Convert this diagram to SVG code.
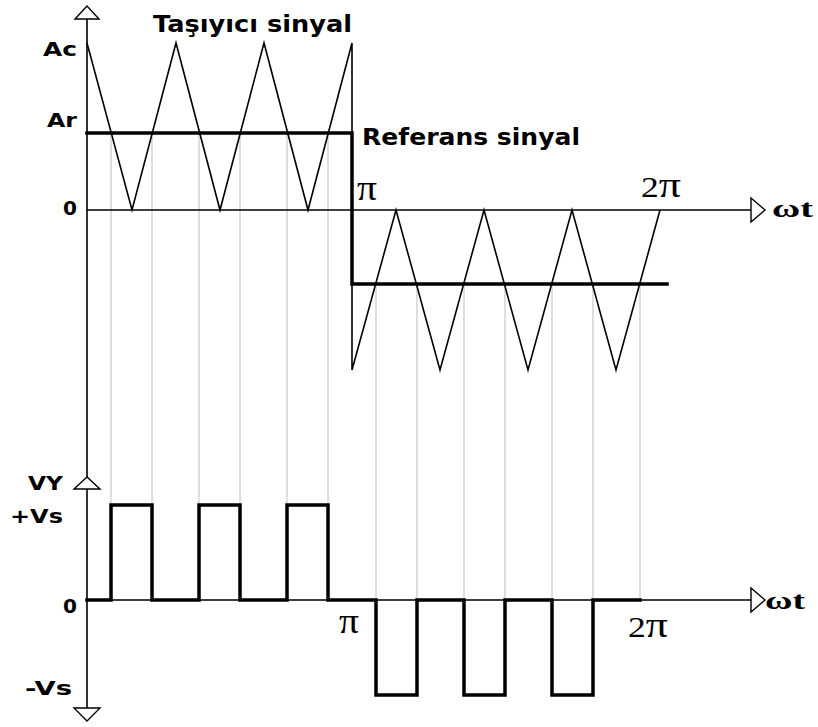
<svg xmlns="http://www.w3.org/2000/svg" width="818" height="727" viewBox="0 0 818 727">
<style>
.thin{fill:none;stroke:#000;stroke-width:1.6}
.thick{fill:none;stroke:#000;stroke-width:3.5;stroke-linejoin:miter;stroke-linecap:square}
.grid{fill:none;stroke:#c8c8c8;stroke-width:1.2}
.arrow{fill:#fff;stroke:#000;stroke-width:1.4}
.lbl{font-family:"DejaVu Sans",Verdana,sans-serif;font-weight:bold;font-size:19px;fill:#000}
.ttl{font-family:"DejaVu Sans",Verdana,sans-serif;font-weight:bold;font-size:23px;fill:#000}
.ser{font-family:"Liberation Serif","Times New Roman",serif;font-size:29px;fill:#000}
.pi{font-size:36px}
.wt{font-family:"Liberation Serif","Times New Roman",serif;font-size:26px;font-weight:bold;fill:#000}
</style>
<rect width="818" height="727" fill="#fff"/>
<g id="gridlines">
<path class="grid" d="M111,133V600M152,133V600M199,133V600M240,133V600M287,133V600M328,133V600M376,284V600M417,284V600M464,284V600M505,284V600M552,284V600M593,284V600M640,284V600"/>
</g>
<g id="axes">
<path class="thin" d="M87,19V708M87,210H751M87,600H751"/>
<polygon class="arrow" points="87,6 75,19 99,19"/>
<polygon class="arrow" points="87,477 74,489 100,489"/>
<polygon class="arrow" points="87,721 74,708 100,708"/>
<polygon class="arrow" points="765,210 751,198 751,222"/>
<polygon class="arrow" points="765,600 751,588 751,612"/>
</g>
<g id="carrier">
<polyline class="thin" points="87,43 132,210 176,43 220,210 264,43 308,210 352,43 352,370 396,210 440,370 484,210 528,370 572,210 616,370 660,210"/>
</g>
<g id="reference">
<polyline class="thick" points="87,133 352,133 352,284 667,284"/>
</g>
<g id="pwm">
<polyline class="thick" points="87,600 111,600 111,505 152,505 152,600 199,600 199,505 240,505 240,600 287,600 287,505 328,505 328,600 376,600 376,695 417,695 417,600 464,600 464,695 505,695 505,600 552,600 552,695 593,695 593,600 640,600"/>
</g>
<g id="labels">
<text class="ttl" x="153" y="32" textLength="199" lengthAdjust="spacingAndGlyphs">Taşıyıcı sinyal</text>
<text class="ttl" x="362" y="145" textLength="218" lengthAdjust="spacingAndGlyphs">Referans sinyal</text>
<text class="lbl" x="43" y="56" textLength="34" lengthAdjust="spacingAndGlyphs">Ac</text>
<text class="lbl" x="47" y="127" textLength="30" lengthAdjust="spacingAndGlyphs">Ar</text>
<text class="lbl" x="63" y="215" textLength="14" lengthAdjust="spacingAndGlyphs">0</text>
<text class="lbl" x="28" y="490" textLength="35" lengthAdjust="spacingAndGlyphs">VY</text>
<text class="lbl" x="10" y="523" textLength="53" lengthAdjust="spacingAndGlyphs">+Vs</text>
<text class="lbl" x="63" y="613" textLength="14" lengthAdjust="spacingAndGlyphs">0</text>
<text class="lbl" x="25" y="695" textLength="47" lengthAdjust="spacingAndGlyphs">-Vs</text>
<text class="ser pi" x="357" y="200" textLength="20" lengthAdjust="spacingAndGlyphs">π</text>
<text class="ser" x="641" y="197" textLength="40" lengthAdjust="spacingAndGlyphs">2<tspan class="pi">π</tspan></text>
<text class="ser pi" x="339" y="633" textLength="20" lengthAdjust="spacingAndGlyphs">π</text>
<text class="ser" x="628" y="637" textLength="40" lengthAdjust="spacingAndGlyphs">2<tspan class="pi">π</tspan></text>
<text class="wt" x="772" y="217" textLength="41" lengthAdjust="spacingAndGlyphs">ωt</text>
<text class="wt" x="765" y="609" textLength="40" lengthAdjust="spacingAndGlyphs">ωt</text>
</g>
</svg>
